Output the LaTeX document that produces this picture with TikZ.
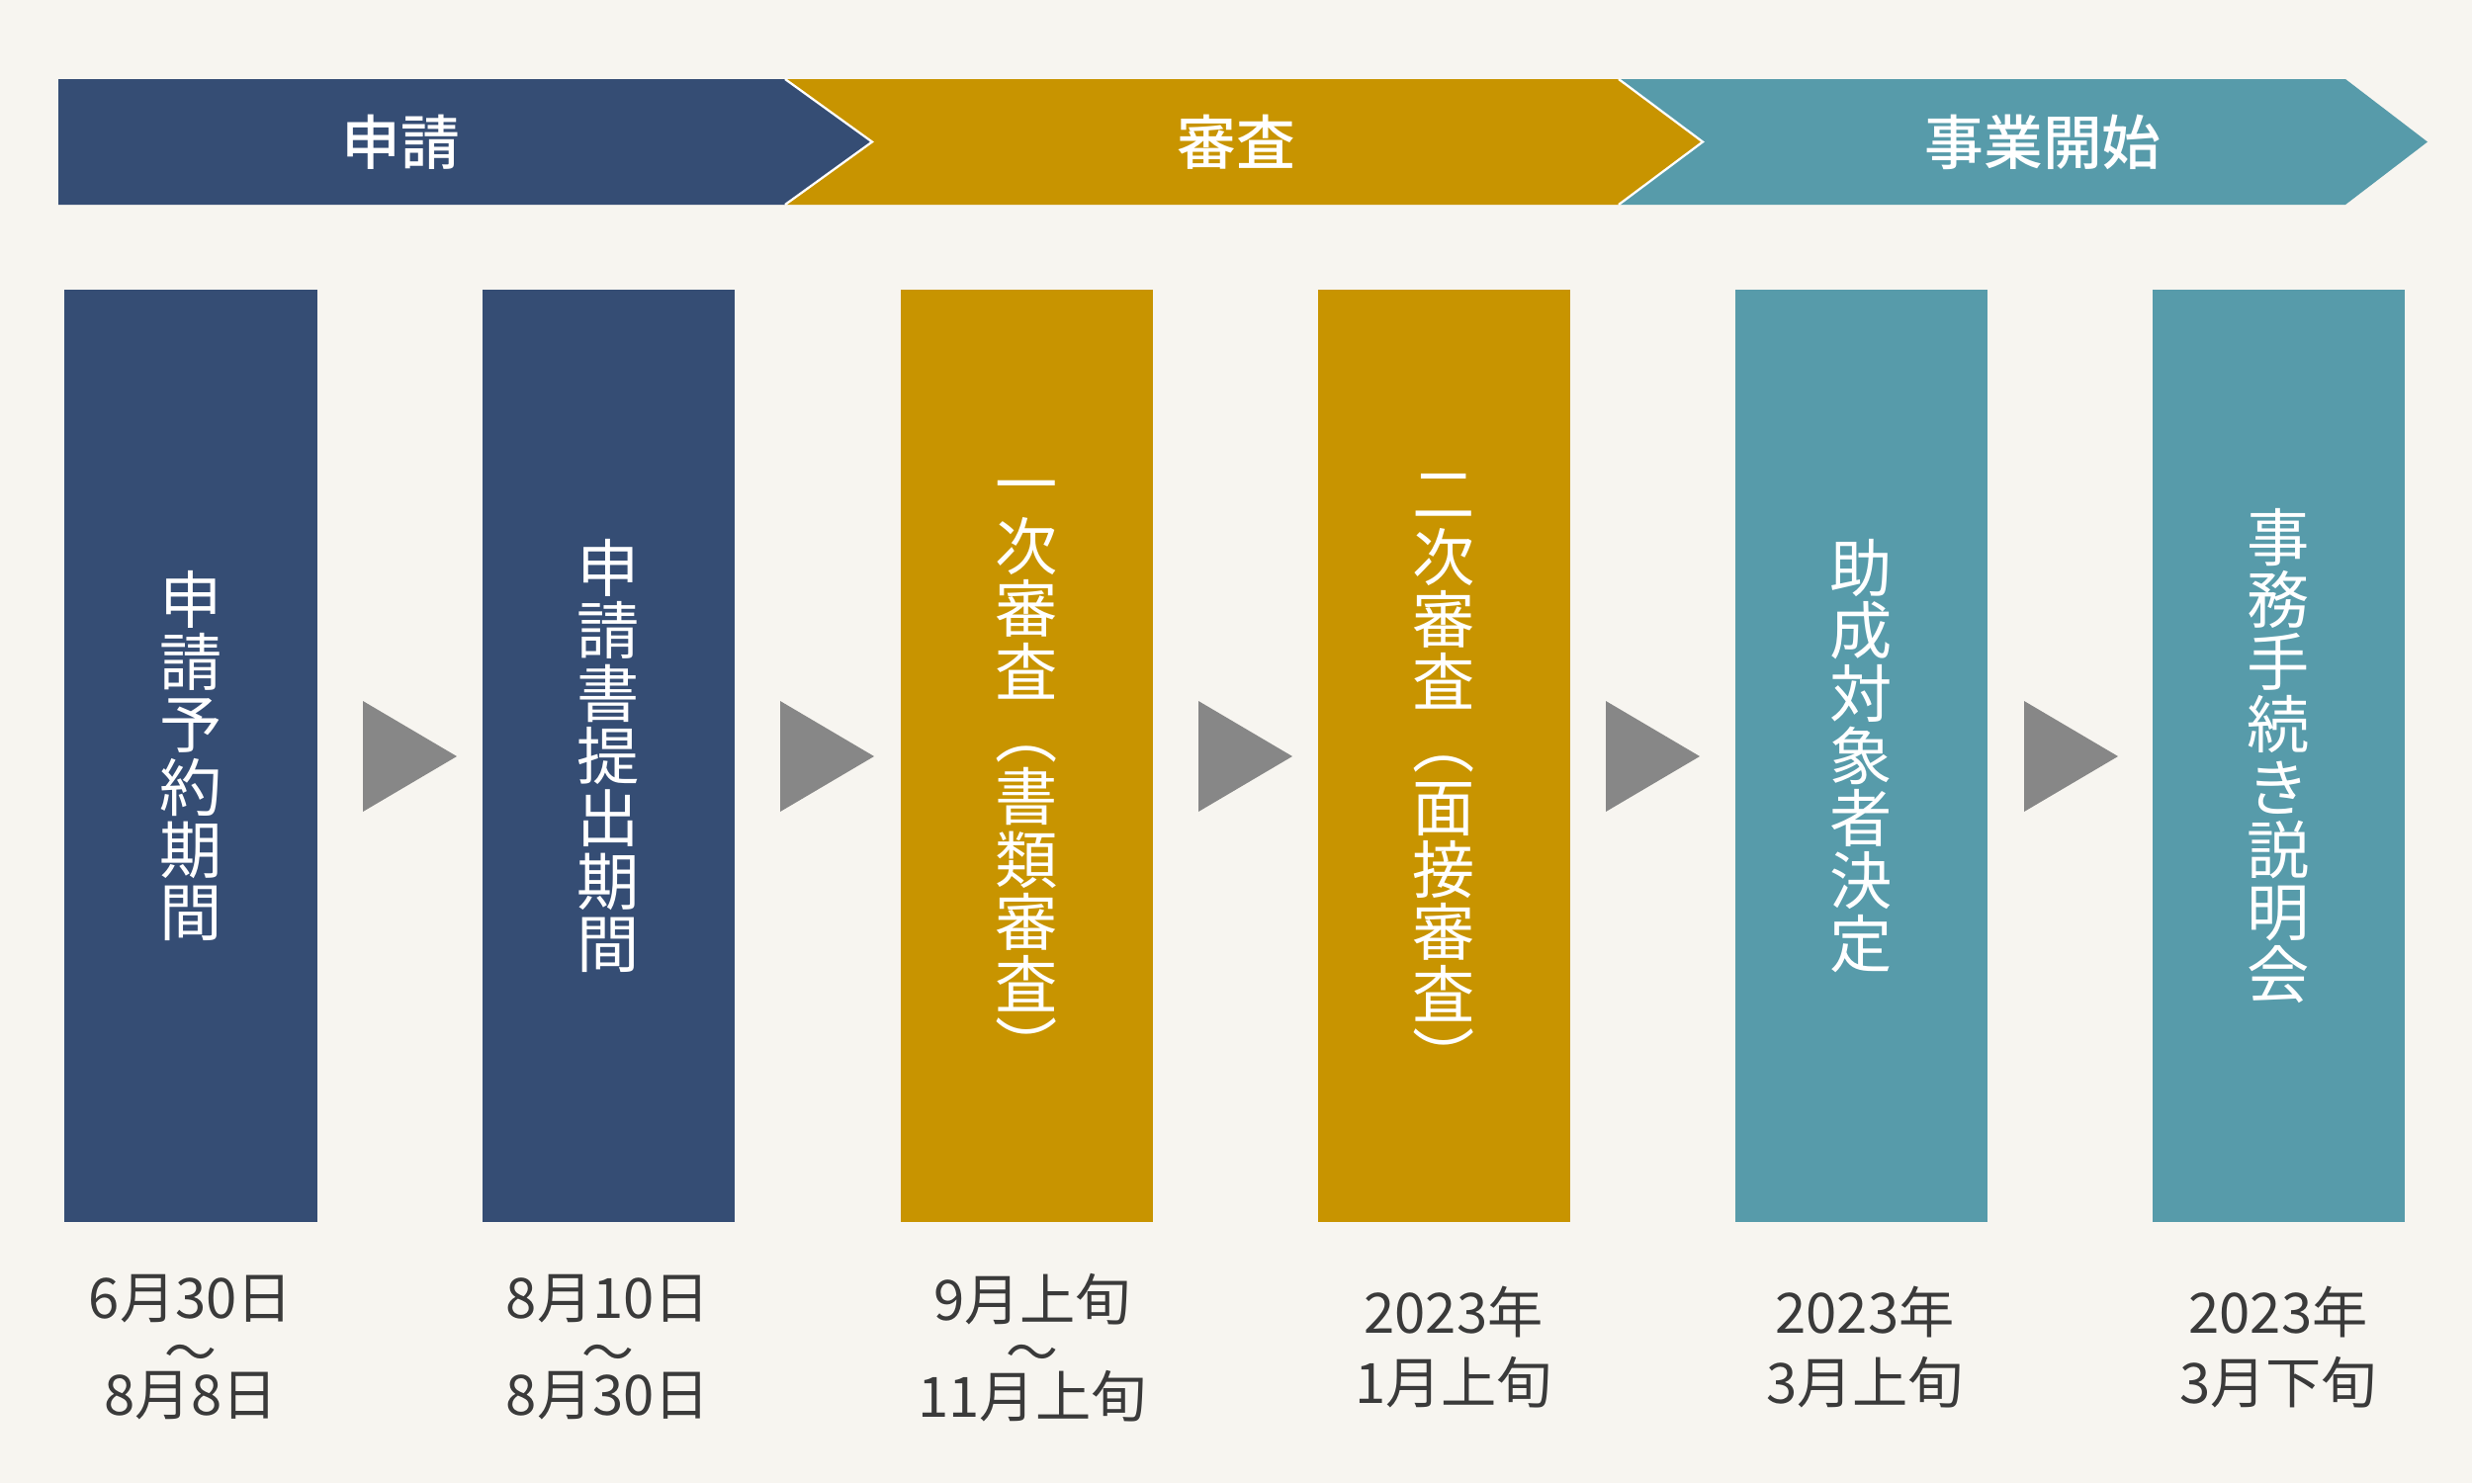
\documentclass[tikz,border=0pt]{standalone}
\usepackage{fontspec}
\setmainfont{Noto Sans CJK JP}
\newfontfamily\jpmed{Noto Sans CJK JP Medium}
\usetikzlibrary{calc}
\definecolor{navy}{HTML}{354D74}
\definecolor{gold}{HTML}{C89400}
\definecolor{teal}{HTML}{579BAA}
\definecolor{bgc}{HTML}{F7F5F0}
\definecolor{trig}{HTML}{878787}
\definecolor{datec}{HTML}{3A3A3A}
\begin{document}
\begin{tikzpicture}[x=0.2mm,y=-0.2mm,
  stepbox/.style={minimum width=51mm,minimum height=188.6mm,inner sep=0pt},
  vtext/.style={inner sep=0pt,align=center,text=white,font=\fontsize{36}{36}\selectfont},
  bantext/.style={text=white,inner sep=0pt,font=\jpmed\fontsize{34}{34}\selectfont},
  datetext/.style={text=datec,inner sep=0pt,font=\fontsize{32}{32}\selectfont},
  tilde/.style={text=datec,inner sep=0pt,font=\fontsize{30}{30}\selectfont},
  tri/.style={fill=trig},
  sep/.style={draw=white,line width=0.45mm}]
\fill[bgc] (0,0) rectangle (2500,1500);
\useasboundingbox (0,0) rectangle (2500,1500);
% banner
\fill[teal] (1637,80) -- (2372,80) -- (2455,143.5) -- (2372,207) -- (1637,207) -- (1722,143.5) -- cycle;
\fill[gold] (794,80) -- (1637,80) -- (1722,143.5) -- (1637,207) -- (794,207) -- (882,143.5) -- cycle;
\fill[navy] (59,80) -- (794,80) -- (882,143.5) -- (794,207) -- (59,207) -- cycle;
\draw[sep] (794,80) -- (882,143.5) -- (794,207);
\draw[sep] (1637,80) -- (1722,143.5) -- (1637,207);
\node[bantext] (t1) at (405,143.5) {申請};
\node[bantext] (t2) at (1250,143.5) {審査};
\node[bantext] (t3) at (2066,143.5) {事業開始};
% boxes
\node[stepbox,fill=navy] (b1) at (193,764.5) {};
\node[stepbox,fill=navy] (b2) at (615,764.5) {};
\node[stepbox,fill=gold] (b3) at (1038,764.5) {};
\node[stepbox,fill=gold] (b4) at (1460,764.5) {};
\node[stepbox,fill=teal] (b5) at (1882,764.5) {};
\node[stepbox,fill=teal] (b6) at (2304,764.5) {};
\node[vtext] (l1) at (b1) {申\\請\\予\\約\\期\\間};
\node[vtext] (l2) at (b2) {申\\請\\書\\提\\出\\期\\間};
\node[vtext] (l3) at ($(b3)+(0,20)$) {一\\次\\審\\査\\︵\\書\\類\\審\\査\\︶};
\node[vtext] (l4) at ($(b4)+(0,22)$) {二\\次\\審\\査\\︵\\面\\接\\審\\査\\︶};
\node[vtext] (l5) at (b5) {助\\成\\対\\象\\者\\決\\定};
\node[vtext] (l6) at (b6) {事\\務\\手\\続\\き\\説\\明\\会};
% triangles
\foreach \x in {367,789,1212,1624,2047}{
  \fill[tri] (\x,709) -- (\x+95,765) -- (\x,821) -- cycle;
}
% dates
\node[datetext] (d1a) at (193,1314) {6月30日};
\node[tilde] (d1b) at (193,1374) {〜};
\node[datetext] (d1c) at (193,1412) {8月8日};
\node[datetext] (d2a) at (615,1314) {8月10日};
\node[tilde] (d2b) at (615,1374) {〜};
\node[datetext] (d2c) at (615,1412) {8月30日};
\node[datetext] (d3a) at (1044,1314) {9月上旬};
\node[tilde] (d3b) at (1044,1374) {〜};
\node[datetext] (d3c) at (1044,1412) {11月上旬};
\node[datetext] (d4a) at (1470,1327) {2023年};
\node[datetext] (d4b) at (1470,1398) {1月上旬};
\node[datetext] (d5a) at (1886,1327) {2023年};
\node[datetext] (d5b) at (1886,1398) {3月上旬};
\node[datetext] (d6a) at (2304,1327) {2023年};
\node[datetext] (d6b) at (2304,1398) {3月下旬};
\end{tikzpicture}
\end{document}
